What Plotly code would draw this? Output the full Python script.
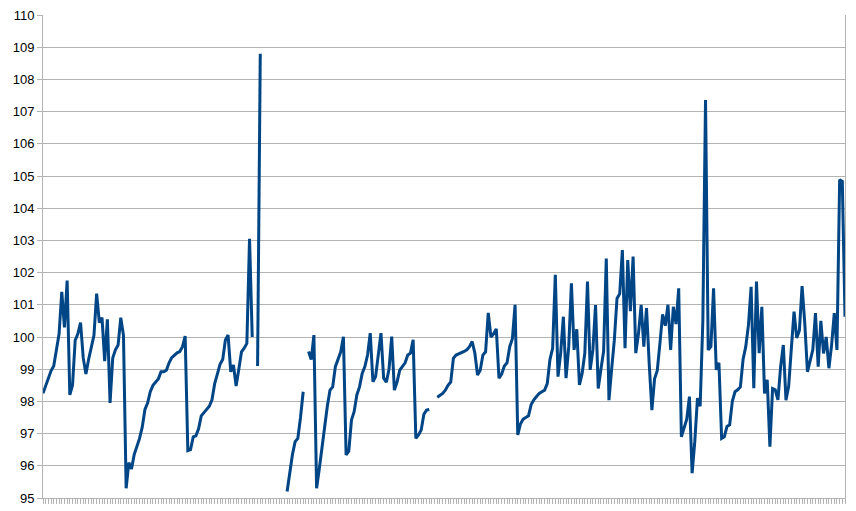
import plotly.graph_objects as go

# Index values (None = missing period)
seg_a = [98.25, 98.5, 98.75, 98.95, 99.1, 99.6, 100.1, 101.4, 100.3, 101.75,
         98.2, 98.5, 99.9, 100.1, 100.45, 99.35, 98.85, 99.3, 99.7, 100.05,
         101.35, 100.45, 100.6, 99.25, 100.55, 97.95, 99.35, 99.6, 99.75, 100.6,
         100.05, 95.3, 96.1, 95.9, 96.35, 96.6, 96.85, 97.2, 97.75, 97.95,
         98.3, 98.5, 98.6, 98.7, 98.92, 98.92, 98.97, 99.2, 99.36, 99.45,
         99.51, 99.55, 99.7, 100.03, 96.47, 96.5, 96.9, 96.93, 97.15, 97.55,
         97.65, 97.75, 97.85, 98.05, 98.55, 98.85, 99.15, 99.3, 99.91, 100.06,
         98.92, 99.13, 98.48, 99.0, 99.54, 99.65, 99.8, 103.05, 100.0, None,
         99.1, 108.8]
gap_a = [None] * 9
seg_b = [95.2, 95.8, 96.35, 96.75, 96.85, 97.5, 98.3]
gap_b = [None]
seg_c = [99.55, 99.3, 100.06, 95.3, 95.9, 96.6, 97.3, 97.85, 98.35, 98.45,
         99.08, 99.34, 99.54, 100.01, 96.34, 96.45, 97.42, 97.68, 98.2, 98.45,
         98.87, 99.08, 99.44, 100.12, 98.61, 98.77, 99.54, 100.12, 98.72, 98.6,
         99.0, 100.01, 98.35, 98.6, 98.97, 99.08, 99.2, 99.44, 99.5, 99.91,
         96.85, 96.96, 97.11, 97.6, 97.73, 97.75]
gap_c = [None, None]
seg_d = [98.13, 98.2, 98.25, 98.35, 98.5, 98.6, 99.34, 99.44, 99.47, 99.5,
         99.55, 99.6, 99.7, 99.86, 99.5, 98.82, 98.97, 99.44, 99.54, 100.75,
         100.0, 100.1, 100.25, 98.72, 98.85, 99.1, 99.2, 99.7, 99.95, 101.0,
         96.96, 97.3, 97.45, 97.5, 97.55, 97.9, 98.05, 98.15, 98.25, 98.3,
         98.35, 98.55, 99.3, 99.65, 101.93, 98.77, 99.5, 100.63, 98.72, 99.7,
         101.67, 99.6, 100.24, 98.51, 98.87, 99.5, 101.72, 98.98, 99.6, 100.99,
         98.4, 99.0, 99.55, 102.44, 98.04, 99.0, 99.9, 101.2, 101.34, 102.7,
         99.65, 102.39, 100.8, 102.5, 99.5, 100.1, 101.0, 99.7, 100.9, 99.18,
         97.73, 98.7, 98.95, 99.8, 100.7, 100.35, 101.0, 99.6, 100.94, 100.4,
         101.51, 96.9, 97.15, 97.45, 98.15, 95.77, 96.75, 98.1, 97.85, 100.5,
         107.36, 99.6, 99.7, 101.51, 98.98, 99.2, 96.85, 96.9, 97.22, 97.27,
         98.0, 98.3, 98.36, 98.45, 99.3, 99.7, 100.37, 101.56, 98.41, 101.72,
         99.5, 100.94, 98.25, 98.67, 96.59, 98.4, 98.36, 98.05, 99.08, 99.75,
         98.04, 98.47, 99.65, 100.79, 99.97, 100.2, 101.58, 100.43, 98.92, 99.23,
         99.6, 100.74, 99.08, 100.5, 99.49, 100.0, 99.03, 99.75, 100.74, 99.6,
         104.88, 104.83, 100.63]

values = seg_a + gap_a + seg_b + gap_b + seg_c + gap_c + seg_d
periods = list(range(len(values)))

fig = go.Figure(
    go.Scatter(
        x=periods, y=values, mode="lines", connectgaps=False,
        line=dict(color="#004586", width=3), hoverinfo="x+y",
    )
)

fig.update_layout(
    width=856, height=511,
    margin=dict(l=43, r=11, t=15, b=13, autoexpand=False),
    plot_bgcolor="white", paper_bgcolor="white",
    showlegend=False,
    font=dict(family="Liberation Sans, Arial, sans-serif", size=13, color="#000000"),
)
fig.update_xaxes(
    range=[0, len(values) - 1], showgrid=False, zeroline=False, automargin=False,
    showline=True, linecolor="#b3b3b3", linewidth=1,
    ticks="outside", tickcolor="#b3b3b3", ticklen=5, tickwidth=1,
    tick0=0, dtick=1, showticklabels=False,
)
fig.update_yaxes(
    range=[95, 110], dtick=1, tick0=95, zeroline=False, automargin=False,
    showgrid=True, gridcolor="#b3b3b3", gridwidth=1,
    showline=True, linecolor="#b3b3b3", linewidth=1, mirror=True,
    ticks="outside", tickcolor="#b3b3b3", ticklen=5, tickwidth=1,
)

fig.write_html(
    "out.html",
    config={"displayModeBar": False},
    post_script="document.body.style.margin='0';document.body.style.overflow='hidden';",
)
